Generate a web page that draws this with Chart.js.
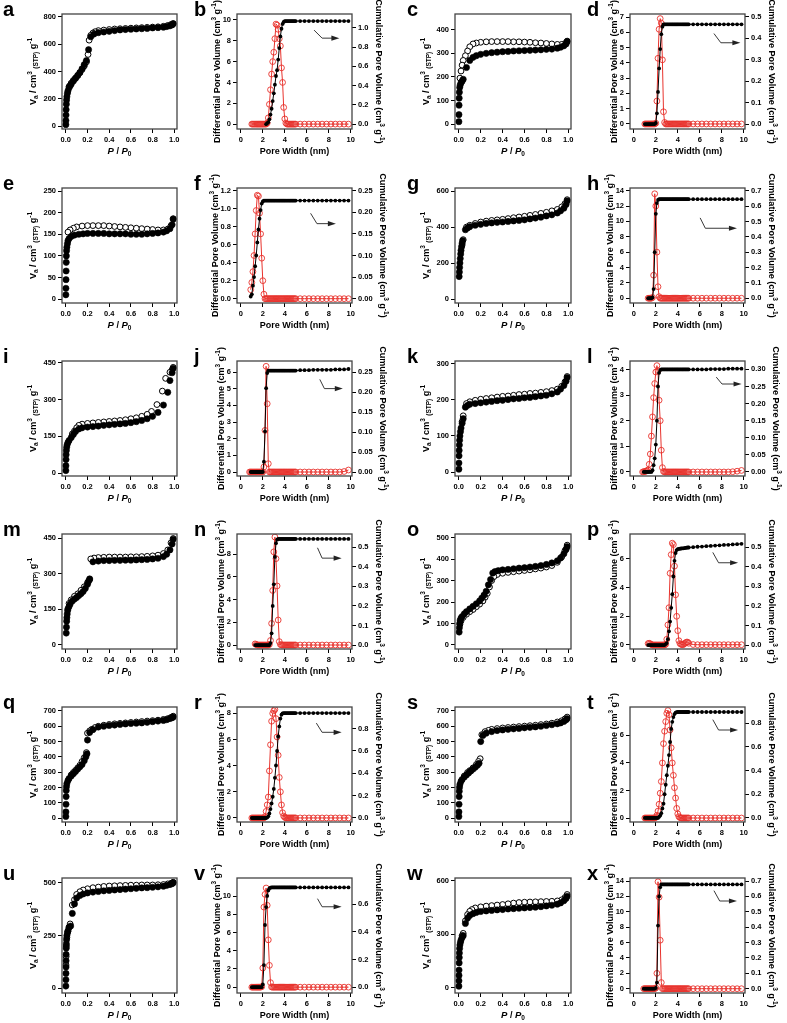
<!DOCTYPE html>
<html>
<head>
<meta charset="utf-8">
<script src="https://cdn.jsdelivr.net/npm/chart.js@4.4.1/dist/chart.umd.min.js"></script>
<style>
  html, body { margin: 0; padding: 0; background: #fff; }
  #fig { position: relative; width: 787px; height: 1023px; overflow: hidden; }
  #fig canvas { position: absolute; }
</style>
</head>
<body>
<div id="fig"></div>
<script>
const FONT = '"Liberation Sans", Arial, Helvetica, sans-serif';
const _ = null;

// ---------- isotherms: [P/P0, Va] (filled = adsorption, open = desorption)
const isoA_ads = [[0.0005,10],[0.001,40],[0.002,80],[0.003,120],[0.005,160],[0.007,190],[0.01,215],[0.015,240],[0.02,258],[0.03,280],[0.04,295],[0.05,308],[0.07,330],[0.09,350],[0.11,370],[0.13,392],[0.15,420],[0.17,450],[0.19,480],[0.21,560],[0.23,655],[0.26,675],[0.3,685],[0.35,690],[0.4,695],[0.45,700],[0.5,705],[0.55,708],[0.6,710],[0.65,712],[0.7,714],[0.75,716],[0.8,720],[0.85,722],[0.9,725],[0.93,730],[0.96,735],[0.98,742],[0.99,750]];
const isoA_des = [[0.99,752],[0.97,745],[0.94,738],[0.9,732],[0.85,728],[0.8,726],[0.75,724],[0.7,722],[0.65,720],[0.6,718],[0.55,716],[0.5,714],[0.45,712],[0.4,708],[0.35,704],[0.3,700],[0.27,692],[0.25,682],[0.23,665],[0.215,630],[0.205,525],[0.19,470],[0.17,440],[0.15,415],[0.13,392],[0.11,372],[0.09,352],[0.07,335],[0.05,315],[0.03,290]];

const isoC_ads = [[0.0005,10],[0.001,40],[0.002,80],[0.003,110],[0.005,135],[0.008,155],[0.012,165],[0.02,175],[0.03,182],[0.04,190],[0.07,240],[0.1,270],[0.13,283],[0.16,290],[0.2,296],[0.25,300],[0.3,303],[0.35,305],[0.4,307],[0.45,308],[0.5,310],[0.55,311],[0.6,312],[0.65,313],[0.7,314],[0.75,315],[0.8,317],[0.85,318],[0.9,322],[0.93,326],[0.96,332],[0.98,340],[0.99,350]];
const isoC_des = [[0.99,352],[0.97,342],[0.94,338],[0.9,338],[0.85,340],[0.8,342],[0.75,344],[0.7,345],[0.65,347],[0.6,348],[0.55,349],[0.5,349],[0.45,350],[0.4,350],[0.35,350],[0.3,350],[0.25,349],[0.2,347],[0.16,344],[0.13,340],[0.1,328],[0.08,310],[0.06,290],[0.04,270],[0.03,250],[0.02,225],[0.01,195]];

const isoE_ads = [[0.0005,10],[0.001,25],[0.002,45],[0.003,65],[0.004,85],[0.005,100],[0.007,112],[0.01,120],[0.015,128],[0.02,135],[0.03,140],[0.05,145],[0.08,148],[0.12,150],[0.16,151],[0.2,152],[0.25,152],[0.3,152],[0.35,152],[0.4,151],[0.45,151],[0.5,151],[0.55,151],[0.6,150],[0.65,150],[0.7,150],[0.75,151],[0.8,152],[0.85,153],[0.9,155],[0.93,158],[0.96,163],[0.98,172],[0.99,185]];
const isoE_des = [[0.99,186],[0.97,170],[0.94,162],[0.9,160],[0.85,160],[0.8,161],[0.75,162],[0.7,163],[0.65,164],[0.6,165],[0.55,166],[0.5,167],[0.45,168],[0.4,169],[0.35,170],[0.3,170],[0.25,170],[0.2,170],[0.15,169],[0.1,167],[0.07,164],[0.04,160],[0.02,155]];

const isoG_ads = [[0.003,125],[0.005,150],[0.007,175],[0.01,200],[0.013,225],[0.017,250],[0.02,270],[0.025,290],[0.03,310],[0.035,325],[0.06,385],[0.08,395],[0.1,402],[0.15,410],[0.2,415],[0.25,420],[0.3,423],[0.35,426],[0.4,428],[0.45,431],[0.5,434],[0.55,437],[0.6,440],[0.65,445],[0.7,450],[0.75,455],[0.8,462],[0.85,468],[0.9,478],[0.93,490],[0.96,505],[0.98,525],[0.99,545]];
const isoG_des = [[0.99,552],[0.97,530],[0.94,512],[0.9,498],[0.85,490],[0.8,482],[0.75,476],[0.7,470],[0.65,465],[0.6,460],[0.55,456],[0.5,452],[0.45,447],[0.4,443],[0.35,440],[0.3,437],[0.25,433],[0.2,428],[0.15,420],[0.1,410],[0.07,400],[0.04,330],[0.03,300]];

const isoI_ads = [[0.0005,10],[0.001,30],[0.002,55],[0.003,75],[0.005,92],[0.008,105],[0.012,115],[0.02,125],[0.03,133],[0.05,145],[0.07,158],[0.09,170],[0.12,180],[0.15,185],[0.2,188],[0.25,190],[0.3,192],[0.35,195],[0.4,197],[0.45,199],[0.5,201],[0.55,203],[0.6,206],[0.65,210],[0.7,215],[0.75,222],[0.8,232],[0.85,248],[0.9,278],[0.94,330],[0.96,378],[0.98,410],[0.99,428]];
const isoI_des = [[0.99,432],[0.98,422],[0.96,412],[0.92,387],[0.89,335],[0.84,280],[0.79,252],[0.75,240],[0.7,232],[0.65,226],[0.6,222],[0.55,218],[0.5,215],[0.45,213],[0.4,211],[0.35,209],[0.3,207],[0.25,205],[0.2,203],[0.15,200],[0.12,195],[0.1,185],[0.08,172],[0.06,160]];

const isoK_ads = [[0.0005,8],[0.001,25],[0.002,45],[0.003,60],[0.005,75],[0.007,88],[0.01,100],[0.015,112],[0.02,122],[0.03,135],[0.04,148],[0.06,180],[0.08,185],[0.1,188],[0.15,190],[0.2,192],[0.25,194],[0.3,196],[0.35,198],[0.4,199],[0.45,201],[0.5,203],[0.55,204],[0.6,206],[0.65,207],[0.7,209],[0.75,211],[0.8,213],[0.85,217],[0.9,222],[0.93,230],[0.96,240],[0.98,252],[0.99,262]];
const isoK_des = [[0.99,265],[0.97,250],[0.94,238],[0.9,230],[0.85,226],[0.8,223],[0.75,221],[0.7,219],[0.65,218],[0.6,216],[0.55,215],[0.5,213],[0.45,211],[0.4,210],[0.35,208],[0.3,206],[0.25,204],[0.2,202],[0.15,199],[0.1,195],[0.07,190],[0.04,156],[0.03,140]];

const isoM_ads = [[0.004,50],[0.006,75],[0.008,100],[0.01,115],[0.013,130],[0.017,145],[0.02,152],[0.03,162],[0.04,172],[0.06,185],[0.08,193],[0.1,200],[0.12,208],[0.14,216],[0.16,225],[0.18,238],[0.2,255],[0.21,268],[0.22,278],[0.25,350],[0.3,353],[0.35,355],[0.4,355],[0.45,356],[0.5,356],[0.55,357],[0.6,357],[0.65,358],[0.7,359],[0.75,360],[0.8,362],[0.85,365],[0.9,372],[0.93,382],[0.96,400],[0.98,425],[0.99,445]];
const isoM_des = [[0.99,448],[0.97,430],[0.94,400],[0.9,385],[0.85,378],[0.8,375],[0.75,373],[0.7,372],[0.65,371],[0.6,371],[0.55,370],[0.5,370],[0.45,370],[0.4,370],[0.35,369],[0.3,368],[0.26,366],[0.23,362],[0.22,275],[0.2,262],[0.17,245],[0.14,230],[0.11,215],[0.08,205],[0.05,190],[0.03,175]];

const isoO_ads = [[0.003,60],[0.005,80],[0.008,100],[0.012,115],[0.02,125],[0.03,132],[0.05,145],[0.07,155],[0.1,168],[0.13,180],[0.16,192],[0.19,205],[0.21,218],[0.23,232],[0.25,250],[0.27,280],[0.29,305],[0.31,335],[0.33,342],[0.36,346],[0.4,350],[0.45,352],[0.5,355],[0.55,358],[0.6,360],[0.65,363],[0.7,366],[0.75,370],[0.8,375],[0.85,382],[0.9,392],[0.93,405],[0.96,425],[0.98,445],[0.99,458]];
const isoO_des = [[0.99,465],[0.97,440],[0.94,410],[0.9,385],[0.85,370],[0.8,363],[0.75,358],[0.7,354],[0.65,350],[0.6,347],[0.55,344],[0.5,341],[0.45,338],[0.4,334],[0.35,328],[0.32,318],[0.3,300],[0.28,270],[0.26,240],[0.24,222],[0.22,205],[0.19,190],[0.16,178],[0.13,165],[0.1,155],[0.07,143],[0.04,128],[0.02,112],[0.01,95]];

const isoQ_ads = [[0.0005,10],[0.001,40],[0.002,90],[0.003,140],[0.004,180],[0.006,205],[0.01,225],[0.02,245],[0.03,258],[0.05,275],[0.07,290],[0.09,305],[0.11,320],[0.13,335],[0.15,350],[0.17,375],[0.185,400],[0.195,420],[0.2,510],[0.22,560],[0.25,578],[0.3,595],[0.35,600],[0.4,605],[0.45,608],[0.5,612],[0.55,615],[0.6,618],[0.65,620],[0.7,622],[0.75,626],[0.8,630],[0.85,634],[0.9,638],[0.93,643],[0.96,650],[0.98,656],[0.99,660]];
const isoQ_des = [[0.99,666],[0.97,658],[0.94,650],[0.9,645],[0.85,640],[0.8,637],[0.75,634],[0.7,631],[0.65,628],[0.6,625],[0.55,622],[0.5,619],[0.45,616],[0.4,612],[0.35,607],[0.3,600],[0.27,592],[0.24,580],[0.22,570],[0.2,555],[0.19,428],[0.17,395],[0.15,370],[0.13,345],[0.11,328],[0.09,312],[0.07,298],[0.05,282]];

const isoS_ads = [[0.0005,10],[0.001,40],[0.002,90],[0.003,140],[0.004,175],[0.006,200],[0.01,220],[0.02,240],[0.03,252],[0.05,268],[0.07,282],[0.09,295],[0.11,308],[0.13,320],[0.15,332],[0.17,345],[0.185,358],[0.2,500],[0.22,540],[0.25,555],[0.3,565],[0.35,572],[0.4,576],[0.45,580],[0.5,583],[0.55,586],[0.6,590],[0.65,593],[0.7,596],[0.75,600],[0.8,605],[0.85,610],[0.9,616],[0.93,622],[0.96,632],[0.98,642],[0.99,650]];
const isoS_des = [[0.99,660],[0.97,648],[0.94,636],[0.9,628],[0.85,620],[0.8,615],[0.75,611],[0.7,607],[0.65,604],[0.6,601],[0.55,598],[0.5,595],[0.45,592],[0.4,589],[0.35,585],[0.3,580],[0.27,573],[0.24,565],[0.21,545],[0.195,388],[0.18,370],[0.16,350],[0.13,328],[0.1,310],[0.08,298],[0.05,275]];

const isoU_ads = [[0.0005,10],[0.001,40],[0.0015,70],[0.002,100],[0.0025,130],[0.003,160],[0.004,190],[0.005,210],[0.007,230],[0.01,250],[0.015,262],[0.02,272],[0.03,288],[0.045,295],[0.06,355],[0.08,400],[0.1,428],[0.13,440],[0.16,447],[0.2,452],[0.25,456],[0.3,459],[0.35,462],[0.4,464],[0.45,466],[0.5,468],[0.55,470],[0.6,472],[0.65,474],[0.7,476],[0.75,477],[0.8,479],[0.85,481],[0.9,484],[0.93,488],[0.96,492],[0.98,496],[0.99,500]];
const isoU_des = [[0.99,503],[0.97,498],[0.94,495],[0.9,492],[0.85,491],[0.8,490],[0.75,490],[0.7,490],[0.65,489],[0.6,489],[0.55,488],[0.5,487],[0.45,486],[0.4,485],[0.35,483],[0.3,480],[0.25,477],[0.2,472],[0.16,466],[0.13,458],[0.1,445],[0.08,420],[0.06,395],[0.04,305],[0.03,290],[0.02,270],[0.01,240],[0.005,200],[0.003,150],[0.002,110]];

const isoW_ads = [[0.0005,10],[0.001,40],[0.0015,70],[0.002,100],[0.003,140],[0.004,170],[0.005,195],[0.007,220],[0.01,240],[0.015,255],[0.02,268],[0.03,282],[0.04,292],[0.06,360],[0.08,390],[0.1,405],[0.13,415],[0.16,422],[0.2,427],[0.25,430],[0.3,433],[0.35,436],[0.4,438],[0.45,441],[0.5,443],[0.55,445],[0.6,447],[0.65,449],[0.7,451],[0.75,454],[0.8,458],[0.85,462],[0.9,468],[0.93,475],[0.96,487],[0.98,500],[0.99,512]];
const isoW_des = [[0.99,522],[0.97,505],[0.94,492],[0.9,486],[0.85,484],[0.8,483],[0.75,482],[0.7,481],[0.65,480],[0.6,479],[0.55,477],[0.5,474],[0.45,470],[0.4,466],[0.35,463],[0.3,460],[0.25,457],[0.2,453],[0.15,447],[0.12,438],[0.1,428],[0.08,410],[0.06,375],[0.04,305],[0.03,292]];

// ---------- pore size distributions on a shared pore-width grid (nm)
const poreW = [0.8,0.9,1.0,1.1,1.2,1.3,1.4,1.5,1.6,1.7,1.8,1.9,
  2.0,2.1,2.2,2.3,2.4,2.5,2.6,2.7,2.8,2.9,
  3.0,3.1,3.2,3.3,3.4,3.5,3.6,3.7,3.8,3.9,
  4.0,4.1,4.2,4.3,4.4,4.5,4.6,4.7,4.8,4.9,5.0,
  5.4,5.8,6.2,6.6,7.0,7.4,7.8,8.2,8.6,9.0,9.4,9.8];

const psdB_diff = [_,_,0,0,0,0,0,0,0,0,0,0,
  0,0,0,0,0.1,0.6,1.9,3.3,4.8,6.0,
  6.9,8.2,9.6,9.5,9.1,8.2,7.5,5.4,4.0,1.6,
  0.5,0.1,0,0,0,0,0,0,0,0,0,
  0,0,0,0,0,0,0,0,0,0,0,0];
const psdB_cum = [_,_,_,_,_,_,_,_,_,_,_,_,
  _,_,_,0,0.01,0.02,0.05,0.10,0.16,0.24,
  0.32,0.41,0.50,0.56,0.67,0.79,0.91,0.99,1.04,1.06,
  1.07,1.07,1.07,1.07,1.07,1.07,1.07,1.07,1.07,1.07,1.07,
  1.07,1.07,1.07,1.07,1.07,1.07,1.07,1.07,1.07,1.07,1.07,1.07];

const psdD_diff = [_,_,0,0,0,0,0,0,0,0,0,0,
  0.05,1.5,4.3,6.2,6.9,6.6,4.2,0.8,0.1,0,
  0,0,0,0,0,0,0,0,0,0,
  0,0,0,0,0,0,0,0,0,0,0,
  0,0,0,0,0,0,0,0,0,0,0,0];
const psdD_cum = [_,_,0,0,0,0,0,0,0,0,0,0,
  0.005,0.05,0.15,0.26,0.35,0.42,0.455,0.465,0.466,0.466,
  0.466,0.466,0.466,0.466,0.466,0.466,0.466,0.466,0.466,0.466,
  0.466,0.466,0.466,0.466,0.466,0.466,0.466,0.466,0.466,0.466,0.466,
  0.466,0.466,0.466,0.466,0.466,0.466,0.466,0.466,0.466,0.466,0.466,0.466];

const psdF_diff = [_,0.1,0.18,0.3,0.48,0.72,0.98,1.15,1.14,0.95,0.72,0.45,
  0.2,0.05,0,0,0,0,0,0,0,0,
  0,0,0,0,0,0,0,0,0,0,
  0,0,0,0,0,0,0,0,0,0,0,
  0,0,0,0,0,0,0,0,0,0,0,0];
const psdF_cum = [_,0.005,0.01,0.03,0.05,0.075,0.1,0.13,0.16,0.185,0.205,0.22,
  0.225,0.227,0.227,0.227,0.227,0.227,0.227,0.227,0.227,0.227,
  0.227,0.227,0.227,0.227,0.227,0.227,0.227,0.227,0.227,0.227,
  0.227,0.227,0.227,0.227,0.227,0.227,0.227,0.227,0.227,0.227,0.227,
  0.227,0.227,0.227,0.227,0.227,0.227,0.227,0.227,0.227,0.227,0.227,0.227];

const psdH_diff = [_,_,_,_,_,0,0,0,0,0.1,3.0,13.6,
  12.0,6.0,1.5,0.2,0,0,0,0,0,0,
  0,0,0,0,0,0,0,0,0,0,
  0,0,0,0,0,0,0,0,0,0,0,
  0,0,0,0,0,0,0,0,0,0,0,0];
const psdH_cum = [_,_,_,_,_,0,0,0,0,0.005,0.06,0.3,
  0.55,0.62,0.64,0.645,0.645,0.645,0.645,0.645,0.645,0.645,
  0.645,0.645,0.645,0.645,0.645,0.645,0.645,0.645,0.645,0.645,
  0.645,0.645,0.645,0.645,0.645,0.645,0.645,0.645,0.645,0.645,0.645,
  0.645,0.645,0.645,0.645,0.645,0.645,0.645,0.645,0.645,0.645,0.645,0.645];

const psdJ_diff = [0,0,0,0,0,0,0,0,0,0,0,0,
  0,0.3,2.5,6.35,4.1,0.5,0,0,0,0,
  0,0,0,0,0,0,0,0,0,0,
  0,0,0,0,0,0,0,0,0,0,0,
  0,0,0,0,0,0,0,0,0,0,0.03,0.12];
const psdJ_cum = [_,0,0,0,0,0,0,0,0,0,0,0,
  0,0.026,0.102,0.21,0.248,0.254,0.254,0.254,0.254,0.254,
  0.254,0.254,0.254,0.254,0.254,0.254,0.254,0.254,0.254,0.254,
  0.254,0.254,0.254,0.254,0.254,0.254,0.254,0.254,0.254,0.254,0.254,
  0.255,0.255,0.255,0.256,0.256,0.256,0.256,0.256,0.257,0.257,0.257,0.258];

const psdL_diff = [0,0.01,0.02,0.03,0.05,0.08,0.3,0.7,1.4,2.15,2.9,3.45,
  3.9,4.15,3.95,2.8,2.0,0.85,0.17,0.02,0,0,
  0,0,0,0,0,0,0,0,0,0,
  0,0,0,0,0,0,0,0,0,0,0,
  0,0,0,0,0,0,0,0,0,0.01,0.03,0.06];
const psdL_cum = [_,0,0,0,0,0,0,0,0,0.005,0.02,0.04,
  0.08,0.15,0.25,0.29,0.298,0.3,0.3,0.3,0.3,0.3,
  0.3,0.3,0.3,0.3,0.3,0.3,0.3,0.3,0.3,0.3,
  0.3,0.3,0.3,0.3,0.3,0.3,0.3,0.3,0.3,0.3,0.3,
  0.3,0.3,0.3,0.3,0.301,0.301,0.301,0.301,0.302,0.302,0.302,0.302];

const psdN_diff = [_,_,_,_,_,0.1,0.05,0,0,0,0,0,
  0,0,0,0,0,0,0.05,0.4,1.9,4.8,
  8.2,9.5,7.6,5.2,2.2,0.3,0.05,0,0,0,
  0,0,0,0,0,0,0,0,0,0,0,
  0,0,0,0,0,0,0,0,0,0,0,0];
const psdN_cum = [_,_,_,_,_,0,0,0,0,0,0,0,
  0,0,0,0,0,0,0,0.01,0.06,0.2,
  0.31,0.45,0.52,0.538,0.542,0.542,0.542,0.542,0.542,0.542,
  0.542,0.542,0.542,0.542,0.542,0.542,0.542,0.542,0.542,0.542,0.542,
  0.542,0.542,0.542,0.542,0.542,0.542,0.542,0.542,0.542,0.542,0.542,0.542];

const psdP_diff = [_,_,_,_,_,0.1,0.12,0.08,0.03,0,0,0,
  0,0,0,0,0,0,0,0,0,0.05,
  0.4,1.4,2.6,5.0,6.3,7.1,7.0,5.5,3.5,2.0,
  1.0,0.3,0.1,0.05,0.02,0.03,0.08,0.15,0.2,0.2,0.12,
  0.03,0.02,0.02,0.02,0.02,0.02,0.02,0.02,0.02,0.02,0.02,0.02];
const psdP_cum = [_,_,_,_,_,0,0,0,0,0,0,0,
  0,0,0,0,0,0,0,0,0,0.005,
  0.01,0.03,0.07,0.12,0.19,0.26,0.35,0.43,0.47,0.485,
  0.49,0.491,0.492,0.493,0.494,0.494,0.495,0.496,0.497,0.498,0.498,
  0.5,0.502,0.503,0.505,0.506,0.508,0.509,0.511,0.512,0.514,0.515,0.517];

const psdR_diff = [_,_,0,0,0,0,0,0,0,0,0,0,
  0,0,0.1,0.5,1.0,1.6,3.6,5.6,7.4,8.0,
  8.2,8.3,7.6,6.2,4.8,3.1,2.0,1.0,0.4,0.15,
  0.05,0,0,0,0,0,0,0,0,0,0,
  0,0,0,0,0,0,0,0,0,0,0,0];
const psdR_cum = [_,_,0,0,0,0,0,0,0,0,0,0,
  0,0,0,0,0.005,0.015,0.04,0.08,0.13,0.19,
  0.26,0.36,0.47,0.6,0.73,0.82,0.89,0.925,0.937,0.94,
  0.94,0.94,0.94,0.94,0.94,0.94,0.94,0.94,0.94,0.94,0.94,
  0.94,0.94,0.94,0.94,0.94,0.94,0.94,0.94,0.94,0.94,0.94,0.94];

const psdT_diff = [_,_,0,0,0,0,0,0,0,0,0,0,
  0.05,0.2,0.5,1.0,1.8,2.65,4.0,5.4,6.3,7.0,
  7.6,7.8,7.5,6.4,5.1,4.0,3.1,2.2,1.45,0.7,
  0.3,0.1,0.03,0,0,0,0,0,0,0,0,
  0,0,0,0,0,0,0,0,0,0,0,0];
const psdT_cum = [_,_,0,0,0,0,0,0,0,0,0,0,
  0,0,0,0.01,0.02,0.04,0.08,0.12,0.2,0.28,
  0.36,0.44,0.53,0.64,0.75,0.81,0.85,0.875,0.887,0.891,
  0.893,0.893,0.893,0.893,0.893,0.893,0.893,0.893,0.893,0.893,0.893,
  0.893,0.893,0.893,0.893,0.893,0.893,0.893,0.893,0.893,0.893,0.893,0.893];

const psdV_diff = [_,_,0,0,0,0,0,0,0,0,0,0.05,
  2.1,8.8,10.2,10.9,9.0,5.2,2.4,0.5,0.02,0,
  0,0,0,0,0,0,0,0,0,0,
  0,0,0,0,0,0,0,0,0,0,0,
  0,0,0,0,0,0,0,0,0,0,0,0];
const psdV_cum = [_,_,0,0,0,0,0,0,0,0,0,0,
  0.02,0.16,0.45,0.58,0.66,0.70,0.715,0.72,0.722,0.722,
  0.722,0.722,0.722,0.722,0.722,0.722,0.722,0.722,0.722,0.722,
  0.722,0.722,0.722,0.722,0.722,0.722,0.722,0.722,0.722,0.722,0.722,
  0.722,0.722,0.722,0.722,0.722,0.722,0.722,0.722,0.722,0.722,0.722,0.722];

const psdX_diff = [_,0,0,0,0,0,0,0,0,0,0,0,
  0.1,2.0,13.9,11.9,6.3,0.8,0,0,0,0,
  0,0,0,0,0,0,0,0,0,0,
  0,0,0,0,0,0,0,0,0,0,0,
  0,0,0,0,0,0,0,0,0,0,0,0];
const psdX_cum = [_,0,0,0,0,0,0,0,0,0,0,0,
  0.005,0.04,0.41,0.6,0.66,0.678,0.678,0.678,0.678,0.678,
  0.678,0.678,0.678,0.678,0.678,0.678,0.678,0.678,0.678,0.678,
  0.678,0.678,0.678,0.678,0.678,0.678,0.678,0.678,0.678,0.678,0.678,
  0.678,0.678,0.678,0.678,0.678,0.678,0.678,0.678,0.678,0.678,0.678,0.678];

// ---------- tick labels
const ticksP = [0, 0.2, 0.4, 0.6, 0.8, 1.0];
const ticksW = [0, 2, 4, 6, 8, 10];
const ticksA = [0, 200, 400, 600, 800];
const ticksC = [0, 100, 200, 300, 400];
const ticksE = [0, 50, 100, 150, 200, 250];
const ticksG = [0, 200, 400, 600];
const ticksI = [0, 150, 300, 450];
const ticksK = [0, 100, 200, 300];
const ticksM = [0, 150, 300, 450];
const ticksO = [0, 100, 200, 300, 400, 500];
const ticksQ = [0, 100, 200, 300, 400, 500, 600, 700];
const ticksS = [0, 100, 200, 300, 400, 500, 600, 700];
const ticksU = [0, 250, 500];
const ticksWW = [0, 300, 600];
const bLeft = [0, 2, 4, 6, 8, 10],        bRight = [0, 0.2, 0.4, 0.6, 0.8, 1.0];
const dLeft = [0, 1, 2, 3, 4, 5, 6, 7],   dRight = [0, 0.1, 0.2, 0.3, 0.4, 0.5];
const fLeft = [0, 0.2, 0.4, 0.6, 0.8, 1.0, 1.2], fRight = [0, 0.05, 0.10, 0.15, 0.20, 0.25];
const hLeft = [0, 2, 4, 6, 8, 10, 12, 14], hRight = [0, 0.1, 0.2, 0.3, 0.4, 0.5, 0.6, 0.7];
const jLeft = [0, 1, 2, 3, 4, 5, 6],      jRight = [0, 0.05, 0.10, 0.15, 0.20, 0.25];
const lLeft = [0, 1, 2, 3, 4],            lRight = [0, 0.05, 0.10, 0.15, 0.20, 0.25, 0.30];
const nLeft = [0, 2, 4, 6, 8],            nRight = [0, 0.1, 0.2, 0.3, 0.4, 0.5];
const pLeft = [0, 2, 4, 6],               pRight = [0, 0.1, 0.2, 0.3, 0.4, 0.5];
const rLeft = [0, 2, 4, 6, 8],            rRight = [0, 0.2, 0.4, 0.6, 0.8];
const tLeft = [0, 2, 4, 6],               tRight = [0, 0.2, 0.4, 0.6, 0.8];
const vLeft = [0, 2, 4, 6, 8, 10],        vRight = [0, 0.2, 0.4, 0.6];
const xLeft = [0, 2, 4, 6, 8, 10, 12, 14], xRight = [0, 0.1, 0.2, 0.3, 0.4, 0.5, 0.6, 0.7];

// ---------- layout
const COL_L = [62, 237, 455, 630];
const COL_R = [177, 352, 571, 745];
const ROW_T = [14, 188, 361, 534, 707, 878];
const PLOT_H = 115;
const CELL_X = [0, 192, 400, 586];
const CELL_W = [192, 208, 186, 201];
const LABEL_X = [3, 2, 7, 1];
const PAD_T = 18, PAD_B = 46;
const RED = '#e8322c';

const panels = [
  {id: 'a', kind: 'iso', row: 0, col: 0, ads: isoA_ads, des: isoA_des, yT: ticksA, y: [-22, 822]},
  {id: 'b', kind: 'psd', row: 0, col: 1, diff: psdB_diff, cum: psdB_cum, lT: bLeft, l: [-0.47, 10.57], lD: 0, rT: bRight, r: [-0.05, 1.143], rD: 1, arrow: [0.67, 0.14, 0.74, 0.21, 0.89]},
  {id: 'c', kind: 'iso', row: 0, col: 2, ads: isoC_ads, des: isoC_des, yT: ticksC, y: [-21, 467]},
  {id: 'd', kind: 'psd', row: 0, col: 3, diff: psdD_diff, cum: psdD_cum, lT: dLeft, l: [-0.33, 7.2], lD: 0, rT: dRight, r: [-0.023, 0.514], rD: 1, arrow: [0.73, 0.17, 0.79, 0.25, 0.96]},
  {id: 'e', kind: 'iso', row: 1, col: 0, ads: isoE_ads, des: isoE_des, yT: ticksE, y: [-9, 257]},
  {id: 'f', kind: 'psd', row: 1, col: 1, diff: psdF_diff, cum: psdF_cum, lT: fLeft, l: [-0.048, 1.23], lD: 1, rT: fRight, r: [-0.01, 0.256], rD: 2, arrow: [0.64, 0.22, 0.695, 0.31, 0.86]},
  {id: 'g', kind: 'iso', row: 1, col: 2, ads: isoG_ads, des: isoG_des, yT: ticksG, y: [-22, 617]},
  {id: 'h', kind: 'psd', row: 1, col: 3, diff: psdH_diff, cum: psdH_cum, lT: hLeft, l: [-0.62, 14.35], lD: 0, rT: hRight, r: [-0.031, 0.718], rD: 1, arrow: [0.61, 0.26, 0.655, 0.35, 0.93]},
  {id: 'i', kind: 'iso', row: 2, col: 0, ads: isoI_ads, des: isoI_des, yT: ticksI, y: [-12, 458]},
  {id: 'j', kind: 'psd', row: 2, col: 1, diff: psdJ_diff, cum: psdJ_cum, lT: jLeft, l: [-0.24, 6.67], lD: 0, rT: jRight, r: [-0.01, 0.278], rD: 2, arrow: [0.72, 0.16, 0.76, 0.24, 0.92]},
  {id: 'k', kind: 'iso', row: 2, col: 2, ads: isoK_ads, des: isoK_des, yT: ticksK, y: [-11, 308]},
  {id: 'l', kind: 'psd', row: 2, col: 3, diff: psdL_diff, cum: psdL_cum, lT: lLeft, l: [-0.157, 4.33], lD: 0, rT: lRight, r: [-0.0118, 0.3245], rD: 2, arrow: [0.75, 0.14, 0.8, 0.2, 0.97]},
  {id: 'm', kind: 'iso', row: 3, col: 0, ads: isoM_ads, des: isoM_des, yT: ticksM, y: [-17, 467]},
  {id: 'n', kind: 'psd', row: 3, col: 1, diff: psdN_diff, cum: psdN_cum, lT: nLeft, l: [-0.35, 9.77], lD: 0, rT: nRight, r: [-0.02, 0.567], rD: 1, arrow: [0.7, 0.12, 0.74, 0.21, 0.91]},
  {id: 'o', kind: 'iso', row: 3, col: 2, ads: isoO_ads, des: isoO_des, yT: ticksO, y: [-19, 517]},
  {id: 'p', kind: 'psd', row: 3, col: 3, diff: psdP_diff, cum: psdP_cum, lT: pLeft, l: [-0.28, 7.74], lD: 0, rT: pRight, r: [-0.02, 0.567], rD: 1, arrow: [0.72, 0.16, 0.77, 0.25, 0.94]},
  {id: 'q', kind: 'iso', row: 4, col: 0, ads: isoQ_ads, des: isoQ_des, yT: ticksQ, y: [-26, 726]},
  {id: 'r', kind: 'psd', row: 4, col: 1, diff: psdR_diff, cum: psdR_cum, lT: rLeft, l: [-0.31, 8.49], lD: 0, rT: rRight, r: [-0.036, 0.994], rD: 1, arrow: [0.69, 0.14, 0.74, 0.22, 0.91]},
  {id: 's', kind: 'iso', row: 4, col: 2, ads: isoS_ads, des: isoS_des, yT: ticksS, y: [-26, 726]},
  {id: 't', kind: 'psd', row: 4, col: 3, diff: psdT_diff, cum: psdT_cum, lT: tLeft, l: [-0.29, 8.06], lD: 0, rT: tRight, r: [-0.034, 0.935], rD: 1, arrow: [0.72, 0.11, 0.77, 0.2, 0.94]},
  {id: 'u', kind: 'iso', row: 5, col: 0, ads: isoU_ads, des: isoU_des, yT: ticksU, y: [-23, 523]},
  {id: 'v', kind: 'psd', row: 5, col: 1, diff: psdV_diff, cum: psdV_cum, lT: vLeft, l: [-0.64, 12.0], lD: 0, rT: vRight, r: [-0.042, 0.79], rD: 1, arrow: [0.7, 0.18, 0.74, 0.25, 0.91]},
  {id: 'w', kind: 'iso', row: 5, col: 2, ads: isoW_ads, des: isoW_des, yT: ticksWW, y: [-28, 614]},
  {id: 'x', kind: 'psd', row: 5, col: 3, diff: psdX_diff, cum: psdX_cum, lT: xLeft, l: [-0.56, 14.39], lD: 0, rT: xRight, r: [-0.028, 0.7195], rD: 1, arrow: [0.73, 0.11, 0.78, 0.2, 0.93]}
];

// ---------- text helpers
const F_TICK = 'bold 7.5px ' + FONT;
const F_T = 'bold 9px ' + FONT;
const F_S = 'bold 6.5px ' + FONT;
const F_I = 'italic bold 9.5px ' + FONT;

const T_ISO_Y = [{t: 'V', f: F_T}, {t: 'a', f: F_S, dy: 2}, {t: ' / cm', f: F_T}, {t: '3', f: F_S, dy: -4},
  {t: ' ', f: F_T}, {t: '(STP)', f: F_S, dy: 2}, {t: ' g', f: F_T}, {t: '-1', f: F_S, dy: -4}];
const T_ISO_X = [{t: 'P', f: F_I}, {t: ' / ', f: F_T}, {t: 'P', f: F_I}, {t: '0', f: F_S, dy: 2}];
const T_PSD_L = [{t: 'Differential Pore Volume (cm', f: F_T}, {t: '3', f: F_S, dy: -4}, {t: ' g', f: F_T}, {t: '-1', f: F_S, dy: -4}, {t: ')', f: F_T}];
const T_PSD_R = [{t: 'Cumulative Pore Volume (cm', f: F_T}, {t: '3', f: F_S, dy: -4}, {t: ' g', f: F_T}, {t: '-1', f: F_S, dy: -4}, {t: ')', f: F_T}];
const T_PSD_X = [{t: 'Pore Width (nm)', f: F_T}];

function drawRich(ctx, segs, cx, cy, angle) {
  ctx.save();
  ctx.translate(cx, cy);
  ctx.rotate(angle);
  ctx.textBaseline = 'alphabetic';
  ctx.textAlign = 'left';
  ctx.fillStyle = '#000';
  let w = 0;
  segs.forEach(s => { ctx.font = s.f; w += ctx.measureText(s.t).width; });
  let x = -w / 2;
  segs.forEach(s => {
    ctx.font = s.f;
    ctx.fillText(s.t, x, 3.3 + (s.dy || 0));
    x += ctx.measureText(s.t).width;
  });
  ctx.restore();
}

function maxTickWidth(ctx, ticks, dec) {
  ctx.font = F_TICK;
  return Math.max(...ticks.map(v => ctx.measureText(v.toFixed(dec)).width));
}

function drawDecor(chart, p) {
  const ctx = chart.ctx;
  const a = chart.chartArea;
  ctx.save();
  ctx.strokeStyle = '#444';
  ctx.lineWidth = 1.3;
  ctx.strokeRect(a.left, a.top, a.right - a.left, a.bottom - a.top);

  ctx.fillStyle = '#000';
  ctx.font = 'bold 20px ' + FONT;
  ctx.textAlign = 'left';
  ctx.textBaseline = 'alphabetic';
  ctx.fillText(p.id, LABEL_X[p.col], a.top + 2);

  const midX = (a.left + a.right) / 2, midY = (a.top + a.bottom) / 2;
  if (p.kind === 'iso') {
    const w = maxTickWidth(ctx, p.yT, 0);
    drawRich(ctx, T_ISO_Y, a.left - w - 17, midY, -Math.PI / 2);
    drawRich(ctx, T_ISO_X, midX, a.bottom + 22, 0);
  } else {
    const wl = maxTickWidth(ctx, p.lT, p.lD);
    const wr = maxTickWidth(ctx, p.rT, p.rD);
    drawRich(ctx, T_PSD_L, a.left - wl - 12, midY, -Math.PI / 2);
    drawRich(ctx, T_PSD_R, a.right + wr + 17, midY, Math.PI / 2);
    drawRich(ctx, T_PSD_X, midX, a.bottom + 22, 0);

    const X = f => a.left + f * (a.right - a.left);
    const Y = f => a.top + f * (a.bottom - a.top);
    const ar = p.arrow;
    ctx.strokeStyle = '#222';
    ctx.fillStyle = '#222';
    ctx.lineWidth = 0.9;
    ctx.beginPath();
    ctx.moveTo(X(ar[0]), Y(ar[1]));
    ctx.lineTo(X(ar[2]), Y(ar[3]));
    ctx.lineTo(X(ar[4]) - 6, Y(ar[3]));
    ctx.stroke();
    ctx.beginPath();
    ctx.moveTo(X(ar[4]), Y(ar[3]));
    ctx.lineTo(X(ar[4]) - 8, Y(ar[3]) - 2.6);
    ctx.lineTo(X(ar[4]) - 8, Y(ar[3]) + 2.6);
    ctx.closePath();
    ctx.fill();
  }
  ctx.restore();
}

function axis(min, max, ticks, dec, pos, size) {
  return {
    type: 'linear', position: pos, min: min, max: max, bounds: 'data',
    afterBuildTicks: s => { s.ticks = ticks.map(v => ({value: v})); },
    afterFit: s => { if (pos === 'bottom') s.height = size; else s.width = size; },
    ticks: {
      font: {family: FONT, size: 7.5, weight: 'bold'}, color: '#000',
      padding: 2, maxRotation: 0, autoSkip: false,
      callback: v => Number(v).toFixed(dec)
    },
    grid: {drawOnChartArea: false, drawTicks: true, tickLength: 4, color: '#000', lineWidth: 1},
    border: {display: false}
  };
}

const isoPts = arr => arr.map(([x, y]) => ({x, y}));
const psdPts = arr => arr.map((y, i) => ({x: poreW[i], y})).filter(pt => pt.y !== null);

const fig = document.getElementById('fig');
panels.forEach(p => {
  const cx = CELL_X[p.col], w = CELL_W[p.col];
  const L = COL_L[p.col], R = COL_R[p.col], T = ROW_T[p.row];
  const h = PAD_T + PLOT_H + PAD_B;
  const padL = L - cx, padR = cx + w - R;

  const canvas = document.createElement('canvas');
  canvas.width = w; canvas.height = h;
  canvas.style.left = cx + 'px'; canvas.style.top = (T - PAD_T) + 'px';
  canvas.style.width = w + 'px'; canvas.style.height = h + 'px';
  fig.appendChild(canvas);

  let datasets, scales;
  if (p.kind === 'iso') {
    datasets = [
      {data: isoPts(p.ads), showLine: false, pointRadius: 3.1, pointBackgroundColor: '#000', pointBorderColor: '#000', pointBorderWidth: 0.6},
      {data: isoPts(p.des), showLine: false, pointRadius: 2.9, pointBackgroundColor: '#fff', pointBorderColor: '#000', pointBorderWidth: 1}
    ];
    scales = {
      x: axis(-0.035, 1.025, ticksP, 1, 'bottom', PAD_B),
      y: axis(p.y[0], p.y[1], p.yT, 0, 'left', padL)
    };
  } else {
    datasets = [
      {data: psdPts(p.cum), yAxisID: 'y2', showLine: true, borderColor: '#000', borderWidth: 1,
       pointRadius: 1.9, pointBackgroundColor: '#000', pointBorderColor: '#000', pointBorderWidth: 0},
      {data: psdPts(p.diff), yAxisID: 'y', showLine: true, borderColor: RED, borderWidth: 1,
       pointRadius: 2.9, pointBackgroundColor: 'rgba(0,0,0,0)', pointBorderColor: RED, pointBorderWidth: 0.9}
    ];
    scales = {
      x: axis(-0.35, 10.12, ticksW, 0, 'bottom', PAD_B),
      y: axis(p.l[0], p.l[1], p.lT, p.lD, 'left', padL),
      y2: axis(p.r[0], p.r[1], p.rT, p.rD, 'right', padR)
    };
  }

  new Chart(canvas, {
    type: 'scatter',
    data: {datasets: datasets},
    options: {
      responsive: false,
      animation: false,
      devicePixelRatio: 1,
      layout: {padding: {top: PAD_T, left: 0, bottom: 0, right: p.kind === 'iso' ? padR : 0}},
      plugins: {legend: {display: false}, tooltip: {enabled: false}},
      scales: scales
    },
    plugins: [{id: 'decor', afterDraw: chart => drawDecor(chart, p)}]
  });
});
</script>
</body>
</html>
